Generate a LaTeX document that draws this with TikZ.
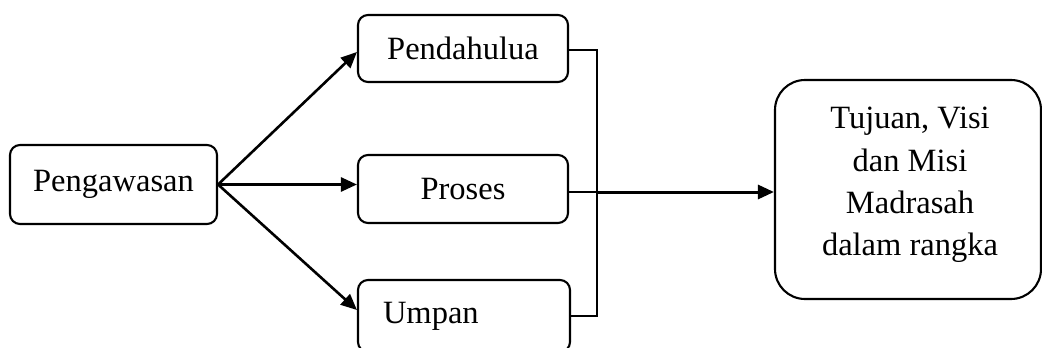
\documentclass[tikz,border=0pt]{standalone}
\usepackage{fontspec}
\setmainfont{Liberation Serif}
\usetikzlibrary{arrows.meta,calc}

\tikzset{
  stagebox/.style={draw, line width=2.1pt, rounded corners=10pt, inner sep=0pt},
  goalbox/.style={draw, line width=2.1pt, rounded corners=30pt, inner sep=0pt},
  flow/.style={line width=2.6pt, -{Triangle[length=16pt,width=14pt]}},
  joinline/.style={line width=1.9pt},
  bodyfont/.style={font=\fontsize{32.5}{42.3}\selectfont}
}

\begin{document}
\begin{tikzpicture}[x=1pt, y=-1pt, bodyfont]
  \clip (0,0) rectangle (1042,348);
  \fill[white] (0,0) rectangle (1042,348);

  % source
  \node[stagebox, minimum width=207pt, minimum height=79pt] (src) at (113.5,184.5) {Pengawasan};

  % three stages
  \node[stagebox, minimum width=210pt, minimum height=67pt] (pend) at (463,48.5) {Pendahulua};
  \node[stagebox, minimum width=210pt, minimum height=68pt] (proc) at (463,189) {Proses};
  \node[stagebox, minimum width=212pt, minimum height=72pt, text width=162pt, align=left] (feed) at (464,316) {Umpan};

  % goal box and its text
  \node[goalbox, minimum width=266pt, minimum height=219pt] (goal) at (908,189.5) {};
  \node[anchor=north, inner sep=0pt, align=center] (goaltext) at (910,107)
    {Tujuan, Visi\\dan Misi\\Madrasah\\dalam rangka};

  % arrows from the source
  \draw[flow] (src.east) -- ($(pend.west)+(0,3.5)$);
  \draw[flow] (src.east) -- (proc.west |- src.east);
  \draw[flow] (src.east) -- ($(feed.west)+(0,-6)$);

  % collecting bar on the right of the stages
  \coordinate (j) at (597,192);
  \draw[joinline] ($(pend.east)+(0,1.5)$) -| (j) |- (feed.east);
  \draw[line width=1.4pt] (proc.east |- j) -- (j);
  \draw[flow, line width=3pt] (j) -- (j -| goal.west);
\end{tikzpicture}
\end{document}
